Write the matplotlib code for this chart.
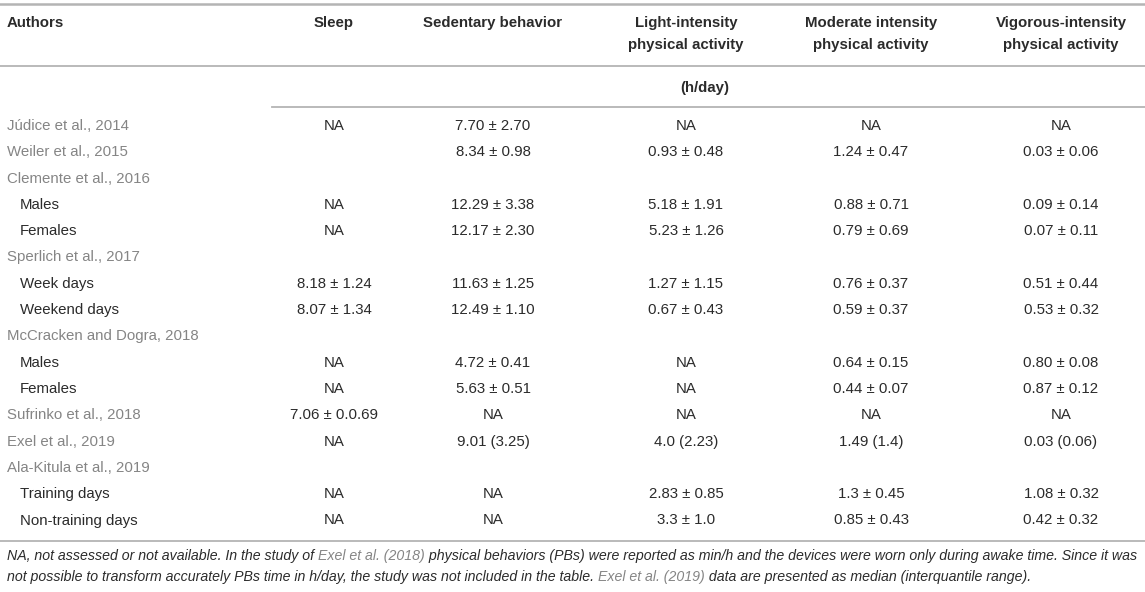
import matplotlib.pyplot as plt

plt.rcParams['font.family'] = ['Liberation Sans', 'DejaVu Sans']

# Table content
columns = [["Sleep"], ["Sedentary behavior"], ["Light-intensity", "physical activity"],
           ["Moderate intensity", "physical activity"], ["Vigorous-intensity", "physical activity"]]
unit_label = "(h/day)"

authors = ["Júdice et al., 2014", "Weiler et al., 2015", "Clemente et al., 2016",
           "Males", "Females", "Sperlich et al., 2017", "Week days", "Weekend days",
           "McCracken and Dogra, 2018", "Males", "Females", "Sufrinko et al., 2018",
           "Exel et al., 2019", "Ala-Kitula et al., 2019", "Training days",
           "Non-training days"]
is_subgroup = [0, 0, 0, 1, 1, 0, 1, 1, 0, 1, 1, 0, 0, 0, 1, 1]

sleep = ["NA", "", "", "NA", "NA", "", "8.18 ± 1.24", "8.07 ± 1.34", "",
         "NA", "NA", "7.06 ± 0.0.69", "NA", "", "NA", "NA"]
sedentary = ["7.70 ± 2.70", "8.34 ± 0.98", "", "12.29 ± 3.38", "12.17 ± 2.30", "",
             "11.63 ± 1.25", "12.49 ± 1.10", "", "4.72 ± 0.41", "5.63 ± 0.51", "NA",
             "9.01 (3.25)", "", "NA", "NA"]
light = ["NA", "0.93 ± 0.48", "", "5.18 ± 1.91", "5.23 ± 1.26", "", "1.27 ± 1.15",
         "0.67 ± 0.43", "", "NA", "NA", "NA", "4.0 (2.23)", "", "2.83 ± 0.85", "3.3 ± 1.0"]
moderate = ["NA", "1.24 ± 0.47", "", "0.88 ± 0.71", "0.79 ± 0.69", "", "0.76 ± 0.37",
            "0.59 ± 0.37", "", "0.64 ± 0.15", "0.44 ± 0.07", "NA", "1.49 (1.4)", "",
            "1.3 ± 0.45", "0.85 ± 0.43"]
vigorous = ["NA", "0.03 ± 0.06", "", "0.09 ± 0.14", "0.07 ± 0.11", "", "0.51 ± 0.44",
            "0.53 ± 0.32", "", "0.80 ± 0.08", "0.87 ± 0.12", "NA", "0.03 (0.06)", "",
            "1.08 ± 0.32", "0.42 ± 0.32"]

# footnote pieces: (text, is_link)
footnote_1 = [("NA, not assessed or not available. In the study of ", False),
              ("Exel et al. (2018)", True),
              (" physical behaviors (PBs) were reported as min/h and the devices were worn only during awake time. Since it was", False)]
footnote_2 = [("not possible to transform accurately PBs time in h/day, the study was not included in the table. ", False),
              ("Exel et al. (2019)", True),
              (" data are presented as median (interquantile range).", False)]

dark = "#2b2b2b"
link = "#858585"
rule = "#b4b4b4"

fig = plt.figure(figsize=(11.45, 5.92), dpi=100)
ax = fig.add_axes([0, 0, 1, 1])
ax.set_xlim(0, 1145)
ax.set_ylim(592, 0)
ax.axis("off")

col_x = [334, 493, 686, 871, 1061]
fs = 10.8

# rules
ax.plot([0, 1145], [4, 4], color=rule, lw=1.8)
ax.plot([0, 1145], [66, 66], color=rule, lw=1.3)
ax.plot([272, 1145], [107, 107], color=rule, lw=1.3)
ax.plot([0, 1145], [541, 541], color=rule, lw=1.3)

# header
ax.text(7, 23, "Authors", fontsize=fs, fontweight="bold", color=dark, va="center", ha="left")
for x, lines in zip(col_x, columns):
    for j, line in enumerate(lines):
        ax.text(x, 23 + j * 22, line, fontsize=fs, fontweight="bold", color=dark,
                va="center", ha="center")
ax.text(705, 88, unit_label, fontsize=fs, fontweight="bold", color=dark, va="center", ha="center")

# body
row_y0 = 126
row_h = 26.3
values = [sleep, sedentary, light, moderate, vigorous]
for i, name in enumerate(authors):
    y = row_y0 + i * row_h
    if is_subgroup[i]:
        ax.text(20, y, name, fontsize=fs, color=dark, va="center", ha="left")
    else:
        ax.text(7, y, name, fontsize=fs, color=link, va="center", ha="left")
    for x, col in zip(col_x, values):
        if col[i]:
            ax.text(x, y, col[i], fontsize=fs, color=dark, va="center", ha="center")

# footnote with linked references in grey
for y, pieces in [(560, footnote_1), (581, footnote_2)]:
    prev = None
    for txt, is_link in pieces:
        color = link if is_link else dark
        if prev is None:
            prev = ax.text(7, y, txt, fontsize=10.2, style="italic", color=color,
                           va="baseline", ha="left")
        else:
            prev = ax.annotate(txt, xy=(1, 0), xycoords=prev, fontsize=10.2,
                               style="italic", color=color, va="bottom", ha="left")

fig.savefig("out.png", dpi=100)
